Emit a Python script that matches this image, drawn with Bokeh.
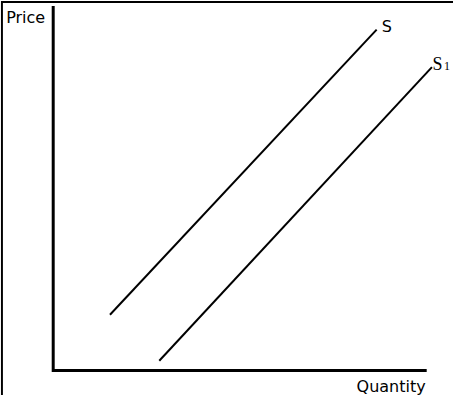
from bokeh.plotting import figure
from bokeh.models import Range1d
from bokeh.core.properties import value
from bokeh.embed import file_html
from bokeh.resources import INLINE

# ---- data (economic units: quantity, price) ----
s_quantity = [1.52, 8.66]
s_price = [1.53, 9.35]
s1_quantity = [2.84, 10.14]
s1_price = [0.27, 8.32]
axis_quantity_max = 10.0
axis_price_max = 10.0
x_label = "Quantity"
y_label = "Price"
s_label = "S"
s1_label_main = "S"
s1_label_sub = "1"

# ---- layout ----
W, H = 453, 395
PX_X = 37.35
x_start = -52.7 / PX_X
x_end = x_start + W / PX_X
box_left_q = -1.373
box_top_p = 10.107
PX_Y = 37.4 * 0.975
y_end = box_top_p + 1.5 / PX_Y
y_start = y_end - H / PX_Y

p = figure(width=W, height=H,
           x_range=Range1d(x_start, x_end), y_range=Range1d(y_start, y_end),
           x_axis_location=None, y_axis_location=None,
           output_backend="svg", toolbar_location=None, min_border=0)
p.title.visible = False
p.grid.visible = False
p.outline_line_color = None
p.background_fill_color = "white"
p.border_fill_color = "white"

# outer box (left and top edges; right/bottom run off the picture)
p.line([box_left_q, box_left_q, x_end + 1], [y_start - 1, box_top_p, box_top_p],
       line_color="black", line_width=2, line_join="miter")

# axes
p.line([0, 0, axis_quantity_max], [axis_price_max, 0, 0],
       line_color="black", line_width=3, line_join="miter")

# supply curves
p.line(s_quantity, s_price, line_color="black", line_width=2)
p.line(s1_quantity, s1_price, line_color="black", line_width=2)

sans = value("DejaVu Sans")
serif = value("Liberation Serif")

p.text(x=[0], y=[axis_price_max], text=[y_label], text_align="right",
       text_baseline="alphabetic", x_offset=-8, y_offset=12,
       text_font=sans, text_font_size="16px", text_color="black")
p.text(x=[axis_quantity_max], y=[0], text=[x_label], text_align="right",
       text_baseline="alphabetic", x_offset=-1, y_offset=15.5,
       text_font=sans, text_font_size="16px", text_color="black")
p.text(x=[s_quantity[-1]], y=[s_price[-1]], text=[s_label], text_align="left",
       text_baseline="alphabetic", x_offset=5, y_offset=-3,
       text_font=sans, text_font_size="16px", text_color="black")
p.text(x=[s1_quantity[-1]], y=[s1_price[-1]], text=[s1_label_main], text_align="left",
       text_baseline="alphabetic", x_offset=0.5, y_offset=-3,
       text_font=serif, text_font_size="18px", text_color="black")
p.text(x=[s1_quantity[-1]], y=[s1_price[-1]], text=[s1_label_sub], text_align="left",
       text_baseline="alphabetic", x_offset=12, y_offset=-1,
       text_font=serif, text_font_size="12px", text_color="black")

open("out.html", "w").write(file_html(p, INLINE))
